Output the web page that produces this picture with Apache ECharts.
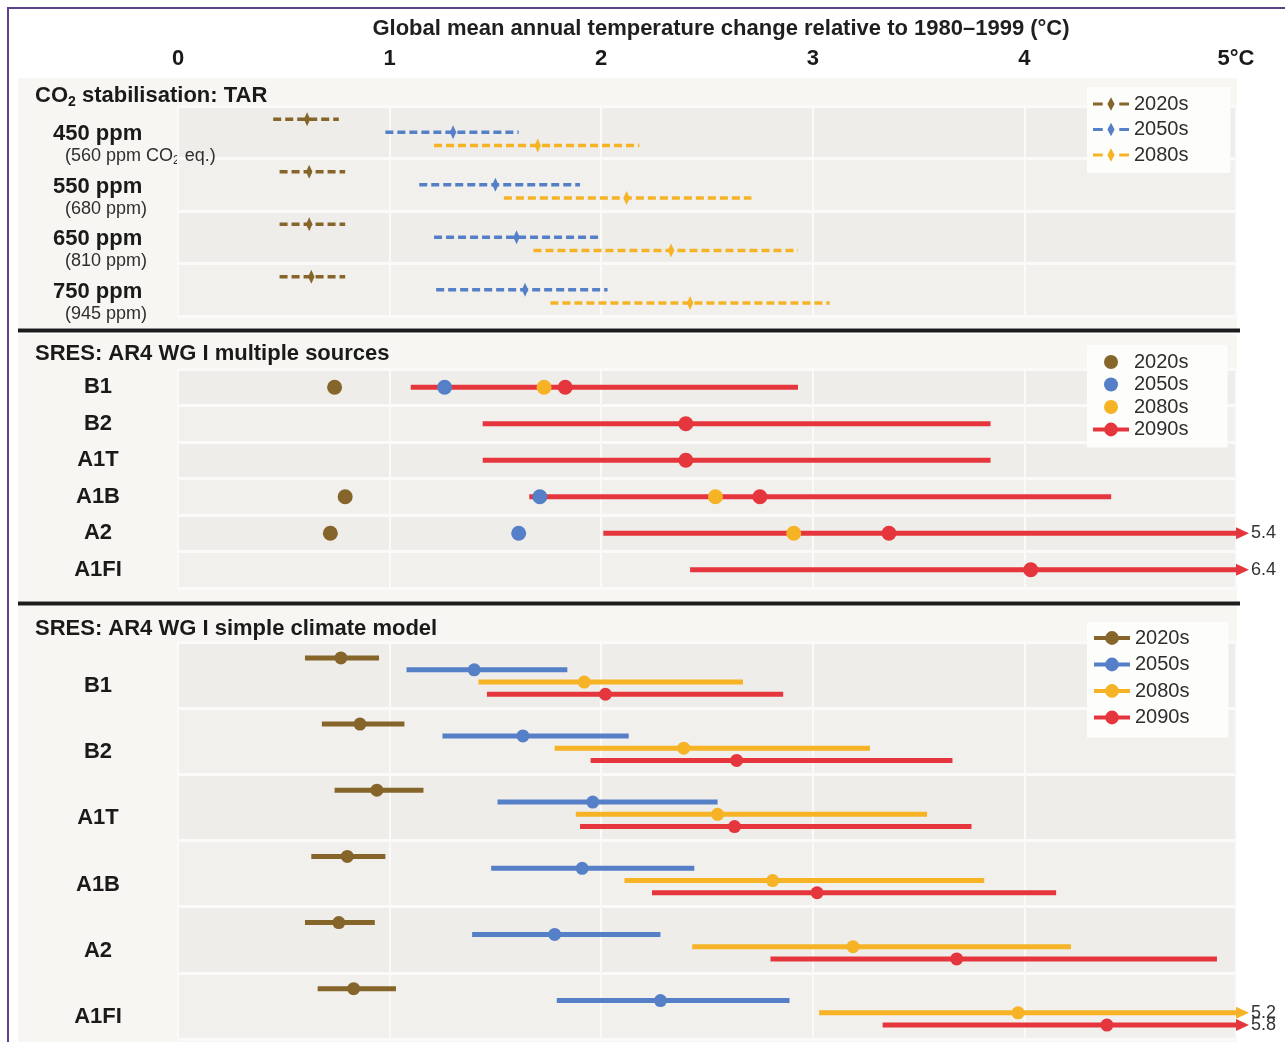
<!DOCTYPE html>
<html>
<head>
<meta charset="utf-8">
<script src="https://cdn.jsdelivr.net/npm/echarts@6/dist/echarts.min.js"></script>
<style>
html,body{margin:0;padding:0;background:#ffffff;}
#chart{width:1285px;height:1042px;}
</style>
</head>
<body>
<div id="chart"></div>
<script>
// ================= DATA =================
const axisTitle = 'Global mean annual temperature change relative to 1980–1999 (°C)';
const xTicks = [0, 1, 2, 3, 4, 5];
const periods = ['2020s', '2050s', '2080s', '2090s'];

// Panel 1 – CO2 stabilisation: TAR   [low, best, high] in °C
const tarTitle = 'CO₂ stabilisation: TAR';
const tarRows  = ['450 ppm', '550 ppm', '650 ppm', '750 ppm'];
const tarEquiv = ['(560 ppm CO₂ eq.)', '(680 ppm)', '(810 ppm)', '(945 ppm)'];
const tar2020s = [[0.45, 0.61, 0.76], [0.48, 0.62, 0.79], [0.48, 0.62, 0.79], [0.48, 0.63, 0.79]];
const tar2050s = [[0.98, 1.30, 1.61], [1.14, 1.50, 1.90], [1.21, 1.60, 1.99], [1.22, 1.64, 2.03]];
const tar2080s = [[1.21, 1.70, 2.18], [1.54, 2.12, 2.71], [1.68, 2.33, 2.93], [1.76, 2.42, 3.08]];

// Panel 2 – SRES: AR4 WG I multiple sources
const msTitle  = 'SRES: AR4 WG I multiple sources';
const msRows   = ['B1', 'B2', 'A1T', 'A1B', 'A2', 'A1FI'];
const ms2020s  = [0.74, null, null, 0.79, 0.72, null];
const ms2050s  = [1.26, null, null, 1.71, 1.61, null];
const ms2080s  = [1.73, null, null, 2.54, 2.91, null];
const ms2090s  = [[1.10, 1.83, 2.93], [1.44, 2.40, 3.84], [1.44, 2.40, 3.84], [1.66, 2.75, 4.41], [2.01, 3.36, 5.4], [2.42, 4.03, 6.4]];

// Panel 3 – SRES: AR4 WG I simple climate model
const scTitle  = 'SRES: AR4 WG I simple climate model';
const scRows   = ['B1', 'B2', 'A1T', 'A1B', 'A2', 'A1FI'];
const sc2020s  = [[0.60, 0.77, 0.95], [0.68, 0.86, 1.07], [0.74, 0.94, 1.16], [0.63, 0.80, 0.98], [0.60, 0.76, 0.93], [0.66, 0.83, 1.03]];
const sc2050s  = [[1.08, 1.40, 1.84], [1.25, 1.63, 2.13], [1.51, 1.96, 2.55], [1.48, 1.91, 2.44], [1.39, 1.78, 2.28], [1.79, 2.28, 2.89]];
const sc2080s  = [[1.42, 1.92, 2.67], [1.78, 2.39, 3.27], [1.88, 2.55, 3.54], [2.11, 2.81, 3.81], [2.43, 3.19, 4.22], [3.03, 3.97, 5.2]];
const sc2090s  = [[1.46, 2.02, 2.86], [1.95, 2.64, 3.66], [1.90, 2.63, 3.75], [2.24, 3.02, 4.15], [2.80, 3.68, 4.91], [3.33, 4.39, 5.8]];

// ================= STYLE =================
const FONT = '"Liberation Sans", Arial, Helvetica, sans-serif';
const COLORS = { '2020s': '#85652a', '2050s': '#5580c8', '2080s': '#f5b325', '2090s': '#e4363c' };
const X_MIN = 0, X_MAX = 5;
const PANEL_BG = '#f8f6f3';
const PLOT_BAND = ['#efedea', '#f2f0ed'];
const WHITE_LINE = '#fbfaf9';

function rangeItems(arr) {
  const out = [];
  arr.forEach((d, i) => {
    if (d == null) return;
    if (Array.isArray(d)) out.push([d[0], d[1], d[2], i]);
    else out.push([d, d, d, i]);
  });
  return out;
}

function makeRenderer(opt) {
  return function (params, api) {
    const lo = api.value(0), best = api.value(1), hi = api.value(2), row = api.value(3);
    const band = api.size([0, 1])[1];
    const c = api.coord([best, row]);
    const y = c[1] + opt.offset * band;
    const color = opt.color;
    const kids = [];
    if (hi > lo) {
      const xL = api.coord([lo, row])[0];
      const xEdge = api.coord([X_MAX, row])[0];
      const lineStyle = { stroke: color, lineWidth: opt.width, lineDash: opt.dash || null };
      if (hi > X_MAX) {
        kids.push({ type: 'line', shape: { x1: xL, y1: y, x2: xEdge + 2, y2: y }, style: lineStyle });
        kids.push({ type: 'polygon', shape: { points: [[xEdge, y - 6], [xEdge + 13, y], [xEdge, y + 6]] }, style: { fill: color } });
        kids.push({ type: 'text', x: xEdge + 15, y: y, style: { text: String(hi), fill: '#333333', font: '18px ' + FONT, align: 'left', verticalAlign: 'middle' } });
      } else {
        const xH = api.coord([hi, row])[0];
        kids.push({ type: 'line', shape: { x1: xL, y1: y, x2: xH, y2: y }, style: lineStyle });
      }
    }
    if (opt.marker === 'dot') {
      kids.push({ type: 'circle', shape: { cx: c[0], cy: y, r: opt.r }, style: { fill: color } });
    } else if (opt.marker === 'diamond') {
      kids.push({ type: 'polygon', shape: { points: [[c[0], y - 7], [c[0] + 3.2, y], [c[0], y + 7], [c[0] - 3.2, y]] }, style: { fill: color } });
    }
    return { type: 'group', children: kids };
  };
}

function rangeSeries(name, panel, data, opt) {
  return {
    type: 'custom', name: name, xAxisIndex: panel, yAxisIndex: panel,
    clip: false, z: 5, silent: true,
    itemStyle: { color: COLORS[name] },
    encode: { x: [0, 1, 2], y: 3 },
    data: rangeItems(data),
    renderItem: makeRenderer(Object.assign({ color: COLORS[name] }, opt))
  };
}

// legend icons
const dashIcon = 'path://M0,5.5h10v3H0z M14.8,7L18.5,0L22.2,7L18.5,14z M27,5.5h10v3H27z';
const lineDotIcon = 'path://M0,5h34v4H0z M10.5,7a6.5,6.5 0 1,1 13,0a6.5,6.5 0 1,1 -13,0z';

function legendCfg(top, pad, gap, items) {
  return {
    orient: 'vertical', left: 1087, top: top, padding: pad, itemGap: gap,
    itemWidth: 36, itemHeight: 14, backgroundColor: '#fdfdfc', selectedMode: false,
    textStyle: { fontFamily: FONT, fontSize: 20, color: '#2e2e2e' },
    data: items
  };
}

function catAxis(grid, rows, label) {
  return Object.assign({
    type: 'category', gridIndex: grid, data: rows, inverse: true, z: 0,
    axisLine: { show: false }, axisTick: { show: false },
    splitLine: { show: true, lineStyle: { color: WHITE_LINE, width: 3 } },
    splitArea: { show: true, areaStyle: { color: PLOT_BAND } }
  }, { axisLabel: label });
}

function valAxis(grid, showLabels) {
  return {
    type: 'value', gridIndex: grid, min: X_MIN, max: X_MAX, interval: 1, z: 1,
    position: 'top',
    axisLine: { show: false }, axisTick: { show: false },
    splitLine: { show: true, lineStyle: { color: WHITE_LINE, width: 2 } },
    axisLabel: showLabels ? {
      show: true, margin: 36, fontFamily: FONT, fontSize: 22, fontWeight: 'bold', color: '#1a1a1a',
      formatter: v => (xTicks.indexOf(v) < 0 ? '' : (v === X_MAX ? v + '°C' : String(v)))
    } : { show: false }
  };
}

const headRich = {
  b: { fontFamily: FONT, fontSize: 22, fontWeight: 'bold', color: '#1a1a1a' },
  s: { fontFamily: FONT, fontSize: 14, fontWeight: 'bold', color: '#1a1a1a', padding: [12, 0, 0, 0] }
};
function headText(t) {
  const p = t.split('₂');
  return p.length > 1 ? '{b|' + p[0] + '}{s|2}{b|' + p[1] + '}' : '{b|' + t + '}';
}

const rowRich = {
  n: { fontFamily: FONT, fontSize: 22, fontWeight: 'bold', color: '#1a1a1a', lineHeight: 24 },
  ei: { fontFamily: FONT, fontSize: 18, color: '#2e2e2e', lineHeight: 20, padding: [0, 0, 0, 12] },
  e: { fontFamily: FONT, fontSize: 18, color: '#2e2e2e', lineHeight: 20 },
  sub: { fontFamily: FONT, fontSize: 12, color: '#2e2e2e', lineHeight: 12, padding: [8, 0, 0, 0] }
};

const option = {
  animation: false,
  backgroundColor: '#ffffff',
  title: [
    { text: axisTitle, left: 716, top: 13, textAlign: 'center',
      textStyle: { fontFamily: FONT, fontSize: 22, fontWeight: 'bold', color: '#1f1f1f' } },
    { text: headText(tarTitle), left: 30, top: 78, textStyle: { rich: headRich } },
    { text: headText(msTitle), left: 30, top: 338, textStyle: { rich: headRich } },
    { text: headText(scTitle), left: 30, top: 613, textStyle: { rich: headRich } }
  ],
  graphic: [
    { type: 'rect', z: -10, shape: { x: 18, y: 78, width: 1219, height: 250 }, style: { fill: PANEL_BG } },
    { type: 'rect', z: -10, shape: { x: 18, y: 334, width: 1219, height: 267 }, style: { fill: PANEL_BG } },
    { type: 'rect', z: -10, shape: { x: 18, y: 606, width: 1219, height: 436 }, style: { fill: PANEL_BG } },
    { type: 'line', z: 10, shape: { x1: 18, y1: 330.5, x2: 1240, y2: 330.5 }, style: { stroke: '#1c1c1c', lineWidth: 4 } },
    { type: 'line', z: 10, shape: { x1: 18, y1: 603.5, x2: 1240, y2: 603.5 }, style: { stroke: '#1c1c1c', lineWidth: 4 } },
    { type: 'line', z: 10, shape: { x1: 7, y1: 8, x2: 1285, y2: 8 }, style: { stroke: '#5d3f8a', lineWidth: 2 } },
    { type: 'line', z: 10, shape: { x1: 8, y1: 7, x2: 8, y2: 1042 }, style: { stroke: '#5d3f8a', lineWidth: 2 } }
  ],
  grid: [
    { left: 178, right: 49, top: 106, height: 210, show: true, backgroundColor: PLOT_BAND[0], borderWidth: 0, outerBoundsMode: 'none' },
    { left: 178, right: 49, top: 369, height: 219, show: true, backgroundColor: PLOT_BAND[0], borderWidth: 0, outerBoundsMode: 'none' },
    { left: 178, right: 49, top: 642, height: 397, show: true, backgroundColor: PLOT_BAND[0], borderWidth: 0, outerBoundsMode: 'none' }
  ],
  xAxis: [valAxis(0, true), valAxis(1, false), valAxis(2, false)],
  yAxis: [
    catAxis(0, tarRows, {
      show: true, interval: 0, align: 'left', margin: 125, padding: [24, 0, 0, 0],
      formatter: (v, i) => {
        const eq = tarEquiv[i];
        const p = eq.split('₂');
        const eqRich = p.length > 1 ? '{ei|' + p[0] + '}{sub|2}{e|' + p[1] + '}' : '{ei|' + eq + '}';
        return '{n|' + v + '}\n' + eqRich;
      },
      rich: rowRich
    }),
    catAxis(1, msRows, {
      show: true, interval: 0, align: 'center', margin: 80,
      formatter: v => '{r|' + v + '}',
      rich: { r: { fontFamily: FONT, fontSize: 22, fontWeight: 'bold', color: '#1a1a1a' } }
    }),
    catAxis(2, scRows, {
      show: true, interval: 0, align: 'center', margin: 80, padding: [22, 0, 0, 0],
      formatter: v => '{r|' + v + '}',
      rich: { r: { fontFamily: FONT, fontSize: 22, fontWeight: 'bold', color: '#1a1a1a', lineHeight: 24 } }
    })
  ],
  legend: [
    legendCfg(87, [7, 42, 8, 6], 5.5, [
      { name: '2020s', icon: dashIcon, itemStyle: { color: COLORS['2020s'] } },
      { name: '2050s', icon: dashIcon, itemStyle: { color: COLORS['2050s'] } },
      { name: '2080s', icon: dashIcon, itemStyle: { color: COLORS['2080s'] } }
    ]),
    legendCfg(345, [7, 39, 8, 6], 2.5, [
      { name: '2020s', icon: 'circle', itemStyle: { color: COLORS['2020s'] } },
      { name: '2050s', icon: 'circle', itemStyle: { color: COLORS['2050s'] } },
      { name: '2080s', icon: 'circle', itemStyle: { color: COLORS['2080s'] } },
      { name: '2090s', icon: lineDotIcon, itemStyle: { color: COLORS['2090s'] } }
    ]),
    legendCfg(622, [6, 39, 10, 7], 6.5, [
      { name: '2020s', icon: lineDotIcon, itemStyle: { color: COLORS['2020s'] } },
      { name: '2050s', icon: lineDotIcon, itemStyle: { color: COLORS['2050s'] } },
      { name: '2080s', icon: lineDotIcon, itemStyle: { color: COLORS['2080s'] } },
      { name: '2090s', icon: lineDotIcon, itemStyle: { color: COLORS['2090s'] } }
    ])
  ],
  series: [
    // panel 1 (dashed ranges with tick marker)
    rangeSeries('2020s', 0, tar2020s, { offset: -0.25, width: 3.5, dash: [8, 4], marker: 'diamond' }),
    rangeSeries('2050s', 0, tar2050s, { offset: 0, width: 3.5, dash: [8, 4], marker: 'diamond' }),
    rangeSeries('2080s', 0, tar2080s, { offset: 0.25, width: 3.5, dash: [8, 4], marker: 'diamond' }),
    // panel 2 (2090s range first so dots sit above)
    rangeSeries('2090s', 1, ms2090s, { offset: 0, width: 5, marker: 'dot', r: 7.5 }),
    rangeSeries('2020s', 1, ms2020s, { offset: 0, width: 5, marker: 'dot', r: 7.5 }),
    rangeSeries('2050s', 1, ms2050s, { offset: 0, width: 5, marker: 'dot', r: 7.5 }),
    rangeSeries('2080s', 1, ms2080s, { offset: 0, width: 5, marker: 'dot', r: 7.5 }),
    // panel 3
    rangeSeries('2020s', 2, sc2020s, { offset: -0.26, width: 5, marker: 'dot', r: 6.5 }),
    rangeSeries('2050s', 2, sc2050s, { offset: -0.08, width: 5, marker: 'dot', r: 6.5 }),
    rangeSeries('2080s', 2, sc2080s, { offset: 0.105, width: 5, marker: 'dot', r: 6.5 }),
    rangeSeries('2090s', 2, sc2090s, { offset: 0.29, width: 5, marker: 'dot', r: 6.5 })
  ]
};

const chart = echarts.init(document.getElementById('chart'), null, { renderer: 'canvas' });
chart.setOption(option);
</script>
</body>
</html>
